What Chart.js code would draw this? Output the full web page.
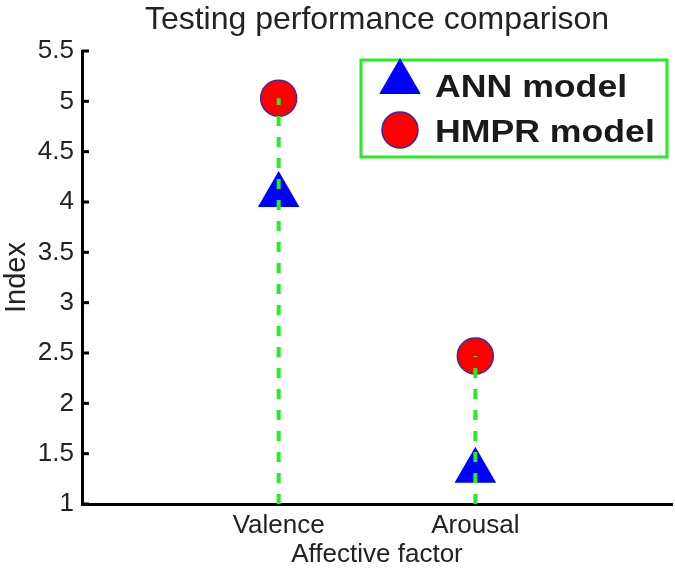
<!DOCTYPE html>
<html>
<head>
<meta charset="utf-8">
<script src="https://cdn.jsdelivr.net/npm/chart.js@4/dist/chart.umd.min.js"></script>
<style>
html,body{margin:0;padding:0;background:#fff;}
#wrap{width:675px;height:570px;position:relative;}
</style>
</head>
<body>
<div id="wrap"><canvas id="c" width="675" height="570"></canvas></div>
<script>
// ---- data ----
const categories = ["Valence", "Arousal"];
const categoryPositions = [1, 2];
const annValues = [4.07, 1.33];
const hmprValues = [5.03, 2.47];
const yTicks = [1, 1.5, 2, 2.5, 3, 3.5, 4, 4.5, 5, 5.5];
const seriesNames = ["ANN model", "HMPR model"];
const chartTitle = "Testing performance comparison";
const stemBase = 1;

const FONT = "'Liberation Sans', Arial, Helvetica, sans-serif";
const TXT = "#222222";

const annPts = categoryPositions.map((x, i) => ({x: x, y: annValues[i]}));
const hmprPts = categoryPositions.map((x, i) => ({x: x, y: hmprValues[i]}));
const stemPts = [];
categoryPositions.forEach((x, i) => {
  stemPts.push({x: x, y: stemBase});
  stemPts.push({x: x, y: Math.max(annValues[i], hmprValues[i])});
  stemPts.push({x: x + 0.5, y: null});
});

const innerTicks = {
  id: 'innerTicks',
  afterDraw(chart) {
    const ctx = chart.ctx, ys = chart.scales.y;
    ctx.save();
    ctx.strokeStyle = '#000';
    ctx.lineWidth = 3;
    yTicks.forEach(v => {
      const py = ys.getPixelForValue(v);
      ctx.beginPath();
      ctx.moveTo(ys.right, py);
      ctx.lineTo(ys.right + 7, py);
      ctx.stroke();
    });
    ctx.restore();
  }
};

const centeredTitle = {
  id: 'centeredTitle',
  afterDraw(chart) {
    const ctx = chart.ctx, a = chart.chartArea;
    ctx.save();
    ctx.fillStyle = TXT;
    ctx.font = "32px " + FONT;
    ctx.textAlign = 'center';
    ctx.textBaseline = 'alphabetic';
    ctx.fillText(chartTitle, (a.left + a.right) / 2, 29);
    ctx.restore();
  }
};

const boxLegend = {
  id: 'boxLegend',
  afterDraw(chart) {
    const ctx = chart.ctx;
    const L = 361, T = 60, W = 306, H = 97;
    ctx.save();
    ctx.fillStyle = '#fff';
    ctx.fillRect(L, T, W, H);
    ctx.strokeStyle = '#22ee22';
    ctx.lineWidth = 3;
    ctx.strokeRect(L, T, W, H);
    // triangle marker
    const tx = 400, ty = 82, r = 24;
    ctx.fillStyle = '#0000ff';
    ctx.beginPath();
    for (let k = 0; k < 3; k++) {
      const a = k * 2 * Math.PI / 3;
      const px = tx + Math.sin(a) * r, py = ty - Math.cos(a) * r;
      if (k === 0) ctx.moveTo(px, py); else ctx.lineTo(px, py);
    }
    ctx.closePath();
    ctx.fill();
    // circle marker
    ctx.fillStyle = '#ff0000';
    ctx.strokeStyle = '#3a2aa0';
    ctx.lineWidth = 1.5;
    ctx.beginPath();
    ctx.arc(400, 130, 18, 0, Math.PI * 2);
    ctx.fill();
    ctx.stroke();
    // text
    ctx.fillStyle = '#1a1a1a';
    ctx.font = "bold 31px " + FONT;
    ctx.textBaseline = 'alphabetic';
    ctx.textAlign = 'left';
    ctx.save();
    ctx.translate(435, 97);
    ctx.scale(1.15, 1);
    ctx.fillText(seriesNames[0], 0, 0);
    ctx.restore();
    ctx.save();
    ctx.translate(435, 142);
    ctx.scale(1.15, 1);
    ctx.fillText(seriesNames[1], 0, 0);
    ctx.restore();
    ctx.restore();
  }
};

new Chart(document.getElementById('c'), {
  type: 'scatter',
  data: {
    datasets: [
      {
        label: 'stem',
        type: 'line',
        data: stemPts,
        borderColor: '#22ee22',
        borderWidth: 4,
        borderDash: [10, 11],
        pointRadius: 0,
        spanGaps: false,
        fill: false,
        order: 0
      },
      {
        label: seriesNames[0],
        data: annPts,
        pointStyle: 'triangle',
        pointRadius: 24,
        pointHoverRadius: 24,
        backgroundColor: '#0000ff',
        borderColor: '#0000ff',
        borderWidth: 0,
        order: 2
      },
      {
        label: seriesNames[1],
        data: hmprPts,
        pointStyle: 'circle',
        pointRadius: 18,
        pointHoverRadius: 18,
        backgroundColor: '#ff0000',
        borderColor: '#3a2aa0',
        borderWidth: 1.5,
        order: 1
      }
    ]
  },
  options: {
    responsive: false,
    animation: false,
    events: [],
    layout: {autoPadding: false, padding: {left: 0, right: 3, top: 51, bottom: 0}},
    plugins: {
      legend: {display: false},
      tooltip: {enabled: false},
      title: {display: false}
    },
    scales: {
      x: {
        type: 'linear',
        min: 0,
        max: 3,
        afterBuildTicks(scale) {
          scale.ticks = categoryPositions.map(v => ({value: v}));
        },
        afterFit(scale) { scale.height = 66; scale.paddingLeft = 0; scale.paddingRight = 0; },
        ticks: {
          callback: (v) => {
            const i = categoryPositions.indexOf(v);
            return i >= 0 ? categories[i] : '';
          },
          color: TXT,
          font: {family: FONT, size: 26},
          padding: 6,
          maxRotation: 0
        },
        grid: {display: true, drawOnChartArea: false, drawTicks: false},
        border: {display: true, color: '#000', width: 3},
        title: {
          display: true,
          text: 'Affective factor',
          color: TXT,
          font: {family: FONT, size: 26},
          padding: {top: 0, bottom: 0}
        }
      },
      y: {
        type: 'linear',
        min: 1,
        max: 5.5,
        afterBuildTicks(scale) {
          scale.ticks = yTicks.map(v => ({value: v}));
        },
        afterFit(scale) { scale.width = 82; },
        ticks: {
          callback: (v) => String(v),
          color: TXT,
          font: {family: FONT, size: 26},
          padding: 8
        },
        grid: {display: true, drawOnChartArea: false, drawTicks: false},
        border: {display: true, color: '#000', width: 3},
        title: {
          display: true,
          text: 'Index',
          color: TXT,
          font: {family: FONT, size: 29},
          padding: {top: 0, bottom: 0}
        }
      }
    }
  },
  plugins: [innerTicks, centeredTitle, boxLegend]
});
</script>
</body>
</html>
